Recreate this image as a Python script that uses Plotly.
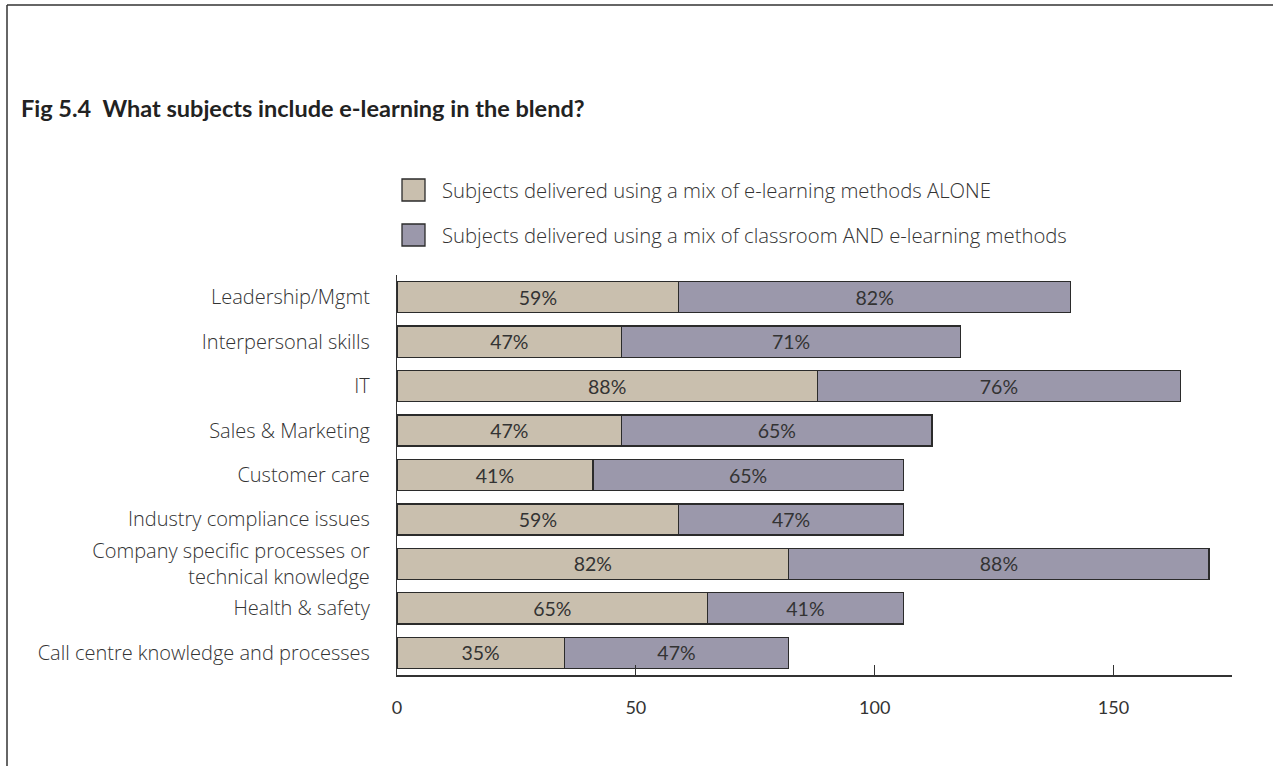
import plotly.graph_objects as go

# Survey data: share of organisations using e-learning for each subject
subjects = [
    "Leadership/Mgmt",
    "Interpersonal skills",
    "IT",
    "Sales &amp; Marketing",
    "Customer care",
    "Industry compliance issues",
    "Company specific processes or<br>technical knowledge",
    "Health &amp; safety",
    "Call centre knowledge and processes",
]
elearning_alone = [59, 47, 88, 47, 41, 59, 82, 65, 35]
classroom_and_elearning = [82, 71, 76, 65, 65, 47, 88, 41, 47]
series_names = [
    "Subjects delivered using a mix of e-learning methods ALONE",
    "Subjects delivered using a mix of classroom AND e-learning methods",
]
x_ticks = [0, 50, 100, 150]

W, H = 1273, 766
ML, MR, MT, MB = 397, 41, 275, 91
PW, PH = W - ML - MR, H - MT - MB

BEIGE = "#c9bfae"
LILAC = "#9b98ab"
INK = "#333333"
EDGE = "#2b2b2b"
LABEL_FONT = "Open Sans"
NUM_FONT = "Lato"


def px(x):
    return (x - ML) / PW


def py(y):
    return (H - MB - y) / PH


fig = go.Figure()
for vals, name, color in [
    (elearning_alone, series_names[0], BEIGE),
    (classroom_and_elearning, series_names[1], LILAC),
]:
    fig.add_trace(go.Bar(
        y=subjects, x=vals, name=name, orientation="h",
        marker=dict(color=color, line=dict(color=EDGE, width=1.3)),
        text=[f"{v}%" for v in vals], textposition="inside",
        insidetextanchor="middle",
        textfont=dict(family=NUM_FONT, size=19.5, color=INK),
        showlegend=False,
    ))

shapes = [
    # frame lines along the top and left
    dict(type="line", xref="paper", yref="paper", x0=px(7), x1=px(W + 5),
         y0=py(5), y1=py(5), line=dict(color=INK, width=1.5)),
    dict(type="line", xref="paper", yref="paper", x0=px(7), x1=px(7),
         y0=py(5), y1=py(H + 5), line=dict(color=INK, width=1.5)),
]
annotations = [
    dict(text="<b>Fig 5.4  What subjects include e-learning in the blend?</b>",
         xref="paper", yref="paper", x=px(19), y=py(108), xanchor="left",
         yanchor="middle", showarrow=False,
         font=dict(family=NUM_FONT, size=23.5, color="#222222")),
]

# legend keys
for i, (name, color) in enumerate(zip(series_names, [BEIGE, LILAC])):
    cy = 190 + 45 * i
    shapes.append(dict(type="rect", xref="paper", yref="paper",
                       x0=px(402), x1=px(425), y0=py(cy - 11), y1=py(cy + 11),
                       fillcolor=color, line=dict(color=EDGE, width=1.3)))
    annotations.append(dict(text=name, xref="paper", yref="paper",
                            x=px(440), y=py(cy), xanchor="left", yanchor="middle",
                            showarrow=False,
                            font=dict(family=LABEL_FONT, size=20.3, color=INK,
                                      weight=300)))

fig.update_layout(
    width=W, height=H,
    margin=dict(l=ML, r=MR, t=MT, b=MB, pad=0),
    barmode="stack", bargap=0.3,
    plot_bgcolor="white", paper_bgcolor="white",
    shapes=shapes, annotations=annotations,
    uniformtext=dict(mode=False),
)
fig.update_xaxes(
    range=[0, 174.8], tickvals=x_ticks, ticks="inside", ticklen=10,
    tickcolor=INK, tickwidth=1.3, showgrid=False, zeroline=False,
    showline=True, linecolor=INK, linewidth=1.5,
    tickfont=dict(family=NUM_FONT, size=18, color=INK),
    ticklabelstandoff=16,
)
fig.update_yaxes(
    categoryorder="array", categoryarray=subjects, autorange="reversed",
    showgrid=False, zeroline=False, showline=True, linecolor=INK,
    linewidth=1.3, ticks="", ticklabelstandoff=22,
    tickfont=dict(family=LABEL_FONT, size=20, color=INK, weight=300),
)

fig.write_html("out.html")
